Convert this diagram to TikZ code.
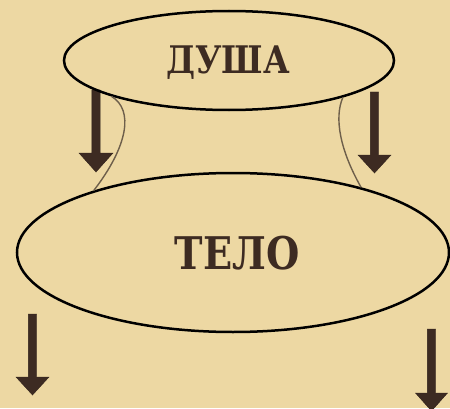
\documentclass[tikz,border=0pt]{standalone}
\usepackage{fontspec}
\usepackage{graphicx}
\setmainfont{DejaVu Serif}
\usetikzlibrary{shapes.geometric}
\definecolor{parch}{RGB}{237,216,163}
\definecolor{ink}{RGB}{61,43,34}
\definecolor{thread}{RGB}{110,95,75}
\tikzset{
  oval/.style={ellipse, draw=black, line width=2.5pt, inner sep=0pt},
  word/.style={text=ink, inner sep=0pt},
  thinline/.style={draw=thread, line width=1.4pt},
  blockarrow/.style={fill=ink, draw=ink!80!black, line width=0.4pt}
}
\newcommand{\downblock}[5]{% x, top, headstart, tip, head half-width
  \path[blockarrow] (#1-4.2,#2) -- (#1+4.2,#2) -- (#1+4.2,#3) -- (#1+#5,#3) -- (#1,#4) -- (#1-#5,#3) -- (#1-4.2,#3) -- cycle;}
\begin{document}
\begin{tikzpicture}[x=1pt,y=1pt]
  \useasboundingbox (0,0) rectangle (450,408);
  \clip (0,0) rectangle (450,408);
  \fill[parch] (0,0) rectangle (450,408);
  % block arrows
  \downblock{96}{318}{255}{236}{17}
  \downblock{374.5}{316}{253}{235}{16.5}
  \downblock{32.5}{94}{31}{13}{16.5}
  \downblock{431.5}{79}{15}{-3}{16}
  % ellipses
  \node[oval, minimum width=330pt, minimum height=99pt] (soul) at (229,347.5) {};
  \node[oval, minimum width=432pt, minimum height=159pt] (body) at (233,155.5) {};
  % connecting threads
  \draw[thinline] (soul.197.5) .. controls (134,298) and (128,262) .. (body.156.4);
  \draw[thinline] (soul.342.4) .. controls (334,290) and (340,258) .. (body.27.8);
  % texts
  \node[word] (t1) at (228,345) {\scalebox{0.86}[1]{\fontsize{38}{42}\selectfont\bfseries ДУША}};
  \node[word] (t2) at (237,155) {\scalebox{0.85}[1]{\fontsize{45}{50}\selectfont\bfseries ТЕЛО}};
\end{tikzpicture}
\end{document}
